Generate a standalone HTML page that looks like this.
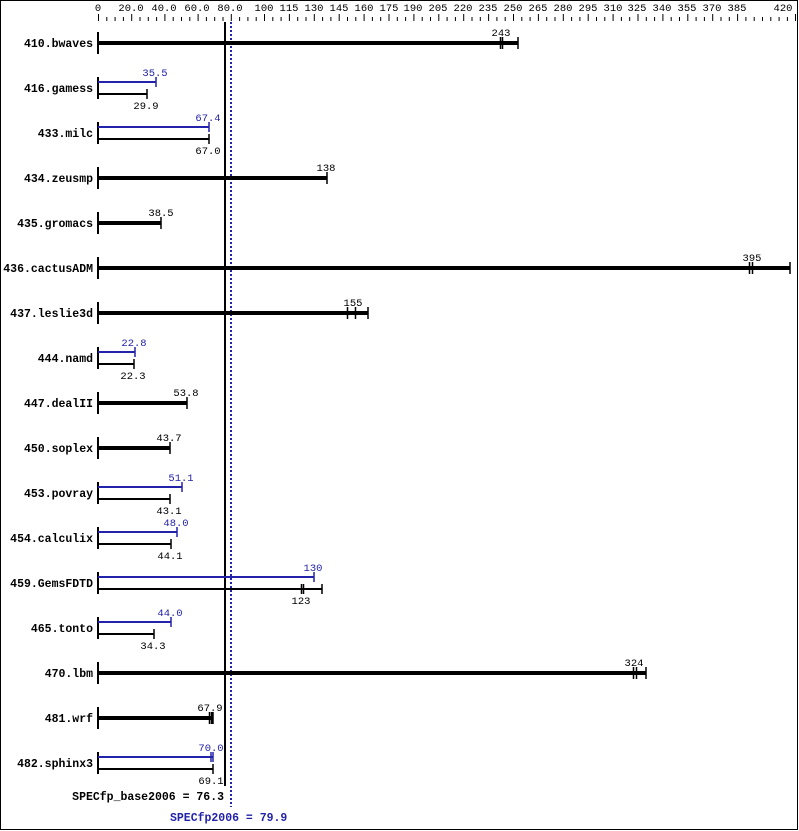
<!DOCTYPE html>
<html><head><meta charset="utf-8"><style>
html,body{margin:0;padding:0;background:#fff}
svg{display:block}
text{font-family:"Liberation Mono","DejaVu Sans Mono",monospace;font-size:10.5px}
.n{font-weight:bold;text-anchor:end;font-size:11.5px}
.v{text-anchor:middle}
.b{fill:#2222aa}
</style></head><body>
<svg width="799" height="831" xmlns="http://www.w3.org/2000/svg">
<rect x="0.5" y="0.5" width="797" height="829" fill="#fff" stroke="#000"/>
<g>
<text x="98" y="11" class="v">0</text><text x="131" y="11" class="v">20.0</text><text x="164" y="11" class="v">40.0</text><text x="197" y="11" class="v">60.0</text><text x="230" y="11" class="v">80.0</text>
<text x="264" y="11" class="v">100</text><text x="289" y="11" class="v">115</text><text x="314" y="11" class="v">130</text><text x="339" y="11" class="v">145</text><text x="364" y="11" class="v">160</text><text x="389" y="11" class="v">175</text><text x="413" y="11" class="v">190</text><text x="438" y="11" class="v">205</text><text x="463" y="11" class="v">220</text><text x="488" y="11" class="v">235</text><text x="513" y="11" class="v">250</text><text x="538" y="11" class="v">265</text><text x="563" y="11" class="v">280</text><text x="588" y="11" class="v">295</text><text x="613" y="11" class="v">310</text><text x="637" y="11" class="v">325</text><text x="662" y="11" class="v">340</text><text x="687" y="11" class="v">355</text><text x="712" y="11" class="v">370</text><text x="737" y="11" class="v">385</text><text x="783" y="11" class="v">420</text>
</g>
<g stroke="#000" stroke-width="1">
<path d="M98.5 14v7M106.8 17v4M115.1 17v4M123.4 17v4M131.7 14v7M140 17v4M148.3 17v4M156.6 17v4M164.9 14v7M173.2 17v4M181.5 17v4M189.8 17v4M198.1 14v7M206.4 17v4M214.7 17v4M223 17v4M231.3 14v7M239.6 17v4M247.9 17v4M256.2 17v4M264.5 14v7"/>
<path d="M272.8 17v4M281.1 17v4M289.4 14v7M297.7 17v4M306 17v4M314.3 14v7M322.6 17v4M330.9 17v4M339.2 14v7M347.5 17v4M355.8 17v4M364.1 14v7M372.4 17v4M380.7 17v4M389 14v7M397.3 17v4M405.6 17v4M413.9 14v7M422.2 17v4M430.5 17v4M438.8 14v7M447.1 17v4M455.4 17v4M463.7 14v7M472 17v4M480.3 17v4M488.6 14v7M496.9 17v4M505.2 17v4M513.5 14v7M521.8 17v4M530.1 17v4M538.4 14v7M546.7 17v4M555 17v4M563.3 14v7M571.6 17v4M579.9 17v4M588.2 14v7M596.5 17v4M604.8 17v4M613.1 14v7M621.4 17v4M629.7 17v4M638 14v7M646.3 17v4M654.6 17v4M662.9 14v7M671.2 17v4M679.5 17v4M687.8 14v7M696.1 17v4M704.4 17v4M712.7 14v7M721 17v4M729.3 17v4M737.6 14v7M745.9 17v4M754.2 17v4M762.5 17v4M770.8 17v4M779.1 17v4M787.4 17v4M795.5 14v7"/>
</g>
<line x1="225" y1="22" x2="225" y2="786" stroke="#000" stroke-width="2"/>
<line x1="231" y1="22" x2="231" y2="807" stroke="#2222aa" stroke-width="2" stroke-dasharray="2,2"/>

<text x="93" y="47" class="n">410.bwaves</text>
<text x="93" y="92" class="n">416.gamess</text>
<text x="93" y="137" class="n">433.milc</text>
<text x="93" y="182" class="n">434.zeusmp</text>
<text x="93" y="227" class="n">435.gromacs</text>
<text x="93" y="272" class="n">436.cactusADM</text>
<text x="93" y="317" class="n">437.leslie3d</text>
<text x="93" y="362" class="n">444.namd</text>
<text x="93" y="407" class="n">447.dealII</text>
<text x="93" y="452" class="n">450.soplex</text>
<text x="93" y="497" class="n">453.povray</text>
<text x="93" y="542" class="n">454.calculix</text>
<text x="93" y="587" class="n">459.GemsFDTD</text>
<text x="93" y="632" class="n">465.tonto</text>
<text x="93" y="677" class="n">470.lbm</text>
<text x="93" y="722" class="n">481.wrf</text>
<text x="93" y="767" class="n">482.sphinx3</text>

<g stroke="#000" stroke-width="2">
<path d="M98 32v22M98 77v22M98 122v22M98 167v22M98 212v22M98 257v22M98 302v22M98 347v22M98 392v22M98 437v22M98 482v22M98 527v22M98 572v22M98 617v22M98 662v22M98 707v22M98 752v22"/>
</g>

<g stroke="#000">
<path stroke-width="4" d="M98 43H518M98 178H327M98 223H161M98 268H790M98 313H368M98 403H187M98 448H170M98 673H646M98 718H213"/>
<path stroke-width="1.5" d="M518 37v12M500.5 37v12M502.5 37v12M327 172v12M161 217v12M790 262v12M749.5 262v12M752.5 262v12M347.5 307v12M355.5 307v12M368 307v12M187 397v12M170 442v12M646 667v12M633.5 667v12M636.5 667v12M209.5 712v12M211.5 712v12M213 712v12"/>
</g>
<text x="501" y="36" class="v">243</text>
<text x="326" y="171" class="v">138</text>
<text x="161" y="216" class="v">38.5</text>
<text x="752" y="261" class="v">395</text>
<text x="353" y="306" class="v">155</text>
<text x="186" y="396" class="v">53.8</text>
<text x="169" y="441" class="v">43.7</text>
<text x="634" y="666" class="v">324</text>
<text x="210" y="711" class="v">67.9</text>

<g stroke="#2222aa" stroke-width="2">
<path d="M98 82H156M98 127H209M98 352H135M98 487H182M98 532H177M98 577H314M98 622H171M98 757H213"/>
<path stroke-width="1.5" d="M156 77v10M209 122v10M135 347v10M182 482v10M177 527v10M314 572v10M171 617v10M213 752v10M211 752v10"/>
</g>
<text x="155" y="76" class="v b">35.5</text>
<text x="208" y="121" class="v b">67.4</text>
<text x="134" y="346" class="v b">22.8</text>
<text x="181" y="481" class="v b">51.1</text>
<text x="176" y="526" class="v b">48.0</text>
<text x="313" y="571" class="v b">130</text>
<text x="170" y="616" class="v b">44.0</text>
<text x="211" y="751" class="v b">70.0</text>
<g stroke="#000" stroke-width="2">
<path d="M98 94H147M98 139H209M98 364H134M98 499H170M98 544H171M98 589H322M98 634H154M98 769H213"/>
<path stroke-width="1.5" d="M147 89v10M209 134v10M134 359v10M170 494v10M171 539v10M322 584v10M301.5 584v10M303.5 584v10M154 629v10M213 764v10"/>
</g>
<text x="146" y="109" class="v">29.9</text>
<text x="208" y="154" class="v">67.0</text>
<text x="133" y="379" class="v">22.3</text>
<text x="169" y="514" class="v">43.1</text>
<text x="170" y="559" class="v">44.1</text>
<text x="301" y="604" class="v">123</text>
<text x="153" y="649" class="v">34.3</text>
<text x="211" y="784" class="v">69.1</text>

<text x="224" y="800" class="n">SPECfp_base2006 = 76.3</text>
<text x="170" y="821" class="n b" style="text-anchor:start">SPECfp2006 = 79.9</text>
</svg>
</body></html>
